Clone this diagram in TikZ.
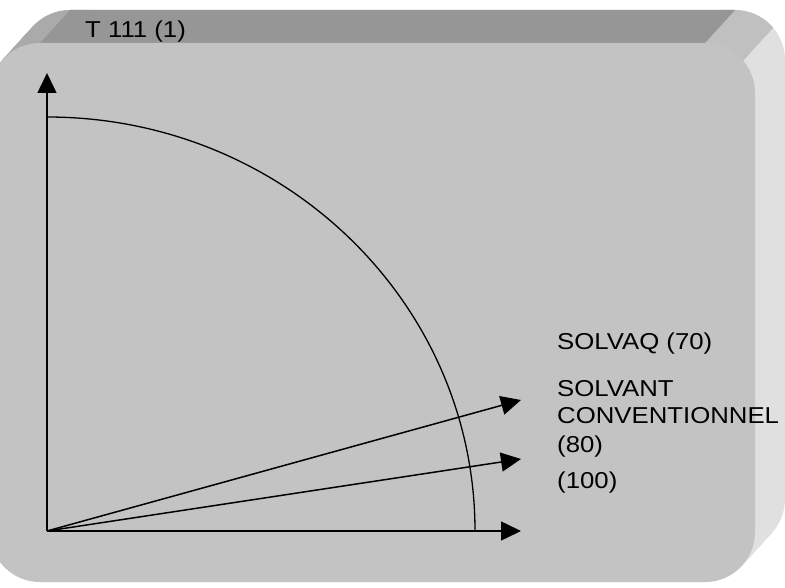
\documentclass[tikz,border=0pt]{standalone}
\usepackage{fontspec}
\setmainfont[FakeStretch=1.12]{Liberation Sans}
\usetikzlibrary{arrows.meta}
\definecolor{facegray}{RGB}{195,195,195}
\definecolor{topgray}{RGB}{150,150,150}
\definecolor{sidegray}{RGB}{224,224,224}
\definecolor{cornergray}{RGB}{170,170,170}
\definecolor{rimgray}{RGB}{192,192,192}

\begin{document}
\begin{tikzpicture}[x=1pt, y=1pt,
    panel/.style={rounded corners=50pt},
    axis/.style={-{Triangle[length=20pt, width=19pt]}, line width=1.5pt, draw=black},
    curve/.style={line width=1.3pt, draw=black},
    lbl/.style={anchor=base west, inner sep=0pt, align=left,
                font=\fontsize{23}{28}\selectfont}
]
\useasboundingbox (0,0) rectangle (785,587);
\clip (0,0) rectangle (785,587);

% extruded panel
\foreach \k in {0,...,30}
    \fill[sidegray, panel, shift={(\k,1.1*\k)}] (-10,5) rectangle (755,544);
\foreach \k in {0,...,30} {
    \fill[cornergray, shift={(\k,1.1*\k)}]
        (-10,494) arc[start angle=180, end angle=90, radius=50] -- (60,544) -- (60,494) -- cycle;
    \fill[rimgray, shift={(\k,1.1*\k)}]
        (690,544) -- (705,544) arc[start angle=90, end angle=40, radius=50] -- (690,494) -- cycle;
}
\fill[topgray] (40,544) -- (70,577) -- (735,577) -- (705,544) -- cycle;
\fill[facegray, panel] (-10,5) rectangle (755,544);

\node[lbl] (title) at (85,549) {T 111 (1)};

% axes and curve
\coordinate (origin) at (47,56);
\coordinate (ytip) at (47,514);
\coordinate (xtip) at (521,56);
\coordinate (tipa) at (521,187);
\coordinate (tipb) at (521,128);

\draw[curve] (475,56) arc[start angle=0, end angle=90, x radius=428, y radius=414];
\draw[axis] (origin) -- (ytip);
\draw[axis] (origin) -- (xtip);
\draw[axis] (origin) -- (tipa);
\draw[axis] (origin) -- (tipb);

\node[lbl] (solvaq) at (557,237) {SOLVAQ (70)};
\node[lbl] (solvant) at (557,135) {SOLVANT\\CONVENTIONNEL\\(80)};
\node[lbl] (cent) at (557,99) {(100)};

\end{tikzpicture}
\end{document}
